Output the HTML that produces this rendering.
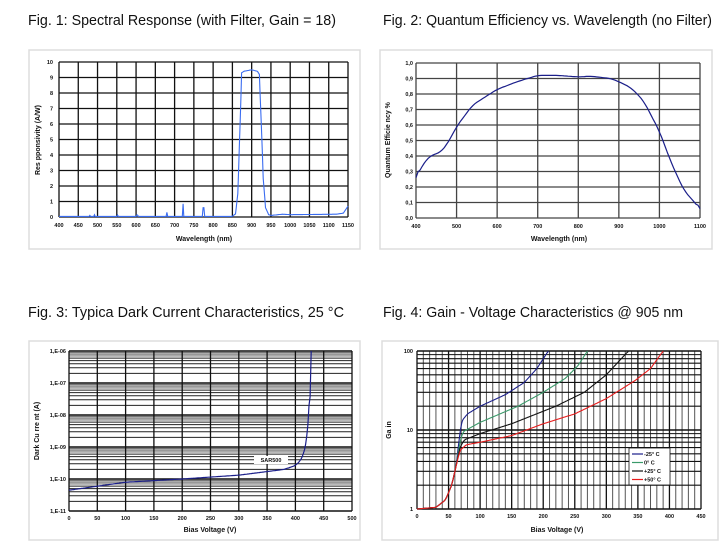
<!DOCTYPE html>
<html><head><meta charset="utf-8"><style>
body{margin:0;background:#fff;width:721px;height:551px;overflow:hidden}
svg{display:block}
.t{font-family:"Liberation Sans Narrow","Liberation Sans",sans-serif;font-size:14.5px;fill:#111}
.k{font-family:"Liberation Sans",sans-serif;font-size:5.5px;font-weight:bold;fill:#111}
.a{font-family:"Liberation Sans",sans-serif;font-size:7px;font-weight:bold;fill:#111}
</style></head><body>
<svg id="s" width="721" height="551" xmlns="http://www.w3.org/2000/svg">
<text class="t" x="28" y="25" textLength="308" lengthAdjust="spacingAndGlyphs">Fig. 1:   Spectral Response (with Filter, Gain = 18)</text>
<text class="t" x="383" y="25" textLength="329" lengthAdjust="spacingAndGlyphs">Fig. 2:   Quantum Efficiency vs. Wavelength (no Filter)</text>
<text class="t" x="28" y="317" textLength="316" lengthAdjust="spacingAndGlyphs">Fig. 3:   Typica Dark Current Characteristics, 25 °C</text>
<text class="t" x="383" y="317" textLength="300" lengthAdjust="spacingAndGlyphs">Fig. 4:   Gain - Voltage Characteristics @ 905 nm</text>
<rect x="29" y="50" width="331" height="199" fill="none" stroke="#ddd" stroke-width="1.5"/>
<rect x="380" y="50" width="332" height="199" fill="none" stroke="#ddd" stroke-width="1.5"/>
<rect x="29" y="341" width="331" height="199" fill="none" stroke="#ddd" stroke-width="1.5"/>
<rect x="382" y="341" width="336" height="199" fill="none" stroke="#ddd" stroke-width="1.5"/>
<g id="g"></g>
</svg>
<script>
const g=document.getElementById('g');let h='';
function L(x1,y1,x2,y2,c,w){h+=`<line x1="${x1}" y1="${y1}" x2="${x2}" y2="${y2}" stroke="${c}" stroke-width="${w}"/>`}
function T(x,y,s,cls,anc,rot){h+=`<text class="${cls}" x="${x}" y="${y}" text-anchor="${anc||'middle'}"${rot?` transform="rotate(-90 ${x} ${y})"`:''}>${s}</text>`}
function P(pts,c,w){h+=`<polyline fill="none" stroke="${c}" stroke-width="${w||1.2}" points="${pts.map(p=>p[0].toFixed(1)+','+p[1].toFixed(1)).join(' ')}"/>`}
function interp(pts,x){for(let i=0;i<pts.length-1;i++){if(x>=pts[i][0]&&x<=pts[i+1][0]){const t=(x-pts[i][0])/(pts[i+1][0]-pts[i][0]);return pts[i][1]+t*(pts[i+1][1]-pts[i][1]);}}return pts[pts.length-1][1]}
function smooth(pts,x0,x1,n){let o=[];for(let i=0;i<=n;i++){const x=x0+(x1-x0)*i/n;o.push([x,interp(pts,x)])}
 let r=o.map((p,i)=>{let s=0,c=0;for(let j=-2;j<=2;j++){if(o[i+j]){s+=o[i+j][1];c++}}return [p[0],s/c]});r[0]=o[0];r[r.length-1]=o[o.length-1];return r}
// Fig1
{const l=59,r=348,t=62,b=217;const X=v=>l+(v-400)/750*(r-l),Y=v=>b-v/10*(b-t);
for(let v=400;v<=1150;v+=50){L(X(v),t,X(v),b,'#111',1.3);T(X(v),b+10,v,'k')}
for(let v=0;v<=10;v++){L(l,Y(v),r,Y(v),'#111',1.3);T(l-6,Y(v)+2,v,'k','end')}
T(204,241,'Wavelength (nm)','a');T(40,140,'Res pponsivity (A/W)','a','middle',1);
let pts=[];for(let v=400;v<=1150;v+=2){let y=0.04;
 const sp=[[480,.1],[492,.15],[552,.12],[603,.12],[680,.3],[722,.85],[775,.6]];
 sp.forEach(s=>{if(Math.abs(v-s[0])<2)y=s[1]});
 const bp=[[850,.05],[858,.2],[864,1.5],[870,6],[874,9.3],[880,9.4],[900,9.5],[915,9.4],[920,9.2],[925,6],[930,2.5],[936,0.6],[944,0.15],[950,0.1],[980,0.18],[1000,0.15],[1120,0.18],[1138,0.25],[1150,0.7]];
 if(v>=850)y=interp(bp,v);pts.push([X(v),Y(y)])}
P(pts,'#3a6cf0',1.1)}
// Fig2
{const l=416,r=700,t=63,b=218;const X=v=>l+(v-400)/700*(r-l),Y=v=>b-v*(b-t);
for(let v=400;v<=1100;v+=100){L(X(v),t,X(v),b,'#444',1.3);T(X(v),b+10,v,'k')}
for(let i=0;i<=10;i++){L(l,Y(i/10),r,Y(i/10),'#444',1.3);T(l-3,Y(i/10)+2,(i/10).toFixed(1).replace('.',','),'k','end')}
T(559,241,'Wavelength (nm)','a');T(390,140,'Quantum Efficie ncy %','a','middle',1);
const q=[[400,.26],[420,.36],[440,.41],[460,.42],[480,.49],[500,.59],[540,.73],[600,.83],[650,.88],[700,.92],[750,.92],[800,.91],[830,.915],[880,.9],[900,.88],[930,.84],[960,.76],[1000,.56],[1030,.35],[1060,.18],[1100,.06]];
P(smooth(q,400,1100,140).map(p=>[X(p[0]),Y(p[1])]),'#1b1f8a',1.2)}
// Fig3
{const l=69,r=352,t=351,b=511;const X=v=>l+v/500*(r-l),Y=e=>b-(e+11)*(b-t)/5;
for(let d=-11;d<-6;d++)for(let m=2;m<10;m++){const e=d+Math.log10(m);L(l,Y(e),r,Y(e),m>6?'#777':'#222',m>6?1.2:1)}
for(let v=0;v<=500;v+=50){L(X(v),t,X(v),b,'#111',1.3);T(X(v),b+9,v,'k')}
for(let d=-11;d<=-6;d++){L(l,Y(d),r,Y(d),'#111',1.6);T(l-3,Y(d)+2,'1,E'+(d<-9?d:'-0'+(-d)),'k','end')}
T(210,532,'Bias Voltage (V)','a');T(39,431,'Dark Cu rre nt (A)','a','middle',1);
const c=[[0,-10.35],[100,-10.1],[200,-10.0],[300,-9.88],[380,-9.7],[400,-9.58],[410,-9.4],[415,-9.2],[420,-8.8],[423,-8.3],[425,-7.7],[427,-6.8],[428,-6]];
P(smooth(c,0,428,214).map(p=>[X(p[0]),Y(p[1])]),'#1b1f8a',1.2);
h+=`<rect x="254" y="456" width="34" height="8" fill="#fff"/>`;T(271,462,'SAR500','k')}
// Fig4
{const l=417,r=701,t=351,b=509;const X=v=>l+v/450*(r-l),Y=g=>b-Math.log10(g)/2*(b-t);
for(let v=0;v<=450;v+=10)L(X(v),t,X(v),b,v%50?'#555':'#111',v%50?1:1.3);
for(let d=0;d<2;d++)for(let m=2;m<10;m++)L(l,Y(Math.pow(10,d)*m),r,Y(Math.pow(10,d)*m),'#111',1.1);
for(let v=0;v<=450;v+=50)T(X(v),b+9,v,'k');
[1,10,100].forEach(gv=>{L(l,Y(gv),r,Y(gv),'#111',1.5);T(l-4,Y(gv)+2,gv,'k','end')});
T(557,532,'Bias Voltage (V)','a');T(391,430,'Ga in','a','middle',1);
const base=[[0,1],[30,1.05],[45,1.3],[55,2],[62,3.5]];
const cs=[['#1b1f8a',[[67,8],[71,13],[80,16],[100,20],[140,28],[170,40],[190,60],[208,100]]],
['#3a9a6a',[[68,7],[73,9.5],[100,12.5],[160,20],[200,30],[235,45],[255,65],[270,100]]],
['#111',[[68,6],[75,7.5],[100,9],[150,12],[220,20],[265,30],[300,50],[335,100]]],
['#e81c1c',[[68,5.5],[78,6.5],[100,7],[150,8.5],[200,12],[250,16],[300,25],[345,42],[370,60],[390,100]]]];
cs.forEach(([col,p])=>{const pp=base.concat(p).map(q=>[q[0],Math.log10(q[1])]);const e=p[p.length-1][0];
 P(smooth(pp,0,e,Math.round(e)).map(q=>[X(q[0]),Y(Math.pow(10,q[1]))]),col,1.1)});
h+=`<rect x="629" y="448" width="41" height="37" fill="#fff" stroke="#111" stroke-width="0.8"/>`;
['-25° C','0° C','+25° C','+50° C'].forEach((s,i)=>{const y=454+i*8.5;L(632,y,643,y,cs[i][0],1.2);T(644,y+2,s,'k','start')})}
g.innerHTML=h;
</script>
</body></html>
